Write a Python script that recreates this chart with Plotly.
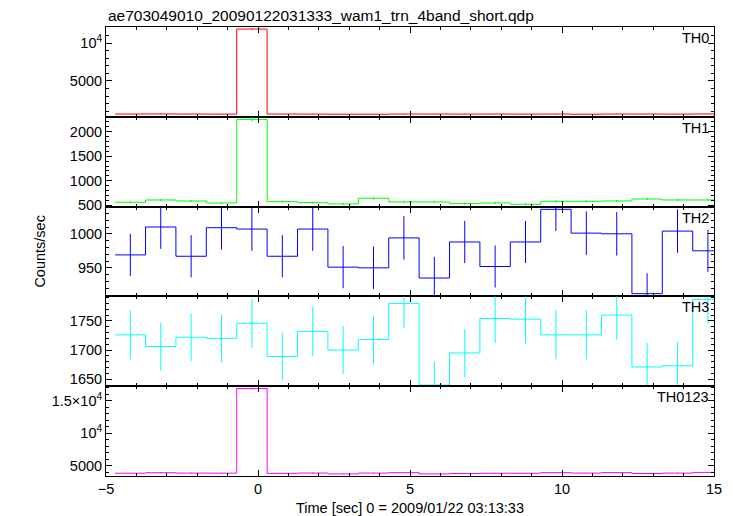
import plotly.graph_objects as go
from plotly.subplots import make_subplots

# ---- data ----
time_centers = [-4.2, -3.2, -2.2, -1.2, -0.2, 0.8, 1.8, 2.8, 3.8, 4.8,
                5.8, 6.8, 7.8, 8.8, 9.8, 10.8, 11.8, 12.8, 13.8, 14.8]
bin_width = 1.0

th0 = [630, 640, 630, 620, 11850, 630, 620, 600, 600, 630,
       630, 620, 630, 620, 630, 600, 630, 630, 620, 640]
th0_err = [25, 25, 25, 25, 109, 25, 25, 24, 24, 25,
           25, 25, 25, 25, 25, 24, 25, 25, 25, 25]

th1 = [561, 608, 588, 547, 2250, 574, 554, 527, 642, 568,
       568, 534, 547, 520, 581, 581, 588, 628, 608, 608]
th1_err = [24, 25, 24, 23, 47, 24, 24, 23, 25, 24,
           24, 23, 23, 23, 24, 24, 24, 25, 25, 25]

th2 = [969, 1010, 967, 1009, 1007, 967, 1007, 951, 950, 994,
       935, 988, 952, 988, 1036, 1001, 1000, 912, 1004, 975]
th2_err = [31, 32, 31, 32, 32, 31, 32, 31, 31, 32,
           31, 31, 31, 31, 32, 32, 32, 30, 32, 31]

th3 = [1726, 1706, 1722, 1720, 1746, 1689, 1732, 1700, 1718, 1780,
       1640, 1695, 1754, 1753, 1726, 1726, 1760, 1671, 1673, 1787]
th3_err = [42, 41, 41, 41, 42, 41, 42, 41, 41, 42,
           40, 41, 42, 42, 42, 42, 42, 41, 41, 42]

th0123 = [3886, 3964, 3907, 3896, 16853, 3860, 3913, 3778, 3910, 3972,
          3773, 3837, 3883, 3881, 3973, 3908, 3978, 3841, 3905, 4010]
th0123_err = [62, 63, 63, 62, 130, 62, 63, 61, 63, 63,
              61, 62, 62, 62, 63, 63, 63, 62, 62, 63]

panel_names = ["TH0", "TH1", "TH2", "TH3", "TH0123"]
panel_values = [th0, th1, th2, th3, th0123]
panel_errors = [th0_err, th1_err, th2_err, th3_err, th0123_err]
panel_colors = ["#ff0000", "#00ff00", "#0000ff", "#00ffff", "#ff00ff"]
panel_ranges = [[265, 12120], [473, 2303], [908, 1040], [1638, 1792], [3460, 17200]]
y_tickvals = [[5000, 10000], [500, 1000, 1500, 2000], [950, 1000],
              [1650, 1700, 1750], [5000, 10000, 15000]]
y_ticktext = [["5000", "10<sup>4</sup>"], ["500", "1000", "1500", "2000"], ["950", "1000"],
              ["1650", "1700", "1750"], ["5000", "10<sup>4</sup>", "1.5×10<sup>4</sup>"]]
y_minor = [1000, 100, 10, 10, 1000]

x_tickvals = [-5, 0, 5, 10, 15]
x_ticktext = ["−5", "0", "5", "10", "15"]

title_text = "ae703049010_20090122031333_wam1_trn_4band_short.qdp"
x_label = "Time [sec] 0 = 2009/01/22 03:13:33"
y_label = "Counts/sec"

FONT = "Liberation Sans, Arial, Helvetica, sans-serif"

fig = make_subplots(rows=5, cols=1, shared_xaxes=True, vertical_spacing=0)

for i in range(5):
    vals = panel_values[i]
    errs = panel_errors[i]
    col = panel_colors[i]
    x_step = [c - bin_width / 2 for c in time_centers] + [time_centers[-1] + bin_width / 2]
    y_step = vals + [vals[-1]]
    fig.add_trace(go.Scatter(x=x_step, y=y_step, mode="lines",
                             line=dict(shape="hv", color=col, width=1),
                             showlegend=False, hoverinfo="skip"), row=i + 1, col=1)
    fig.add_trace(go.Scatter(x=time_centers, y=vals, mode="lines",
                             line=dict(width=0, color=col),
                             error_y=dict(type="data", array=errs, width=0,
                                          thickness=1, color=col),
                             showlegend=False, hoverinfo="skip"), row=i + 1, col=1)
    fig.update_yaxes(row=i + 1, col=1,
                     range=panel_ranges[i], tickmode="array",
                     tickvals=y_tickvals[i], ticktext=y_ticktext[i],
                     ticks="inside", ticklen=6, tickwidth=1, tickcolor="black",
                     minor=dict(tickmode="linear", tick0=0, dtick=y_minor[i],
                                ticks="inside", ticklen=3, tickcolor="black", tickwidth=1),
                     mirror="allticks", showline=True, linecolor="black", linewidth=1,
                     showgrid=False, zeroline=False,
                     tickfont=dict(family=FONT, size=14.5, color="black"))
    fig.update_xaxes(row=i + 1, col=1,
                     range=[-5, 15], tickmode="array", tickvals=x_tickvals,
                     ticktext=x_ticktext,
                     ticks="inside", ticklen=6, tickwidth=1, tickcolor="black",
                     minor=dict(tickmode="linear", tick0=0, dtick=1,
                                ticks="inside", ticklen=3, tickcolor="black", tickwidth=1),
                     mirror="allticks", showline=True, linecolor="black", linewidth=1,
                     showgrid=False, zeroline=False,
                     tickfont=dict(family=FONT, size=14.5, color="black"))
    yref = "y domain" if i == 0 else f"y{i + 1} domain"
    xref = "x domain" if i == 0 else f"x{i + 1} domain"
    fig.add_annotation(text=panel_names[i], xref=xref, yref=yref, x=1, y=1,
                       xanchor="right", yanchor="top", xshift=-3, yshift=-1,
                       showarrow=False, font=dict(family=FONT, size=14.5, color="black"))

fig.add_annotation(text=title_text, xref="paper", yref="paper", x=0, y=1,
                   xanchor="left", yanchor="bottom", yshift=1, showarrow=False,
                   font=dict(family=FONT, size=15.5, color="black"))
fig.add_annotation(text=x_label, xref="paper", yref="paper", x=0.5, y=0,
                   xanchor="center", yanchor="top", yshift=-22, showarrow=False,
                   font=dict(family=FONT, size=14.5, color="black"))
fig.add_annotation(text=y_label, xref="paper", yref="paper", x=-0.11, y=0.5,
                   xanchor="center", yanchor="middle", textangle=-90, showarrow=False,
                   font=dict(family=FONT, size=14.5, color="black"))

fig.update_layout(width=733, height=516,
                  margin=dict(l=106, r=19, t=27, b=40),
                  paper_bgcolor="white", plot_bgcolor="white",
                  showlegend=False, hovermode=False)

fig.write_html("out.html",
               config={"displayModeBar": False},
               post_script="document.body.style.margin='0';"
                           "document.body.style.padding='0';"
                           "document.body.style.overflow='hidden';")
